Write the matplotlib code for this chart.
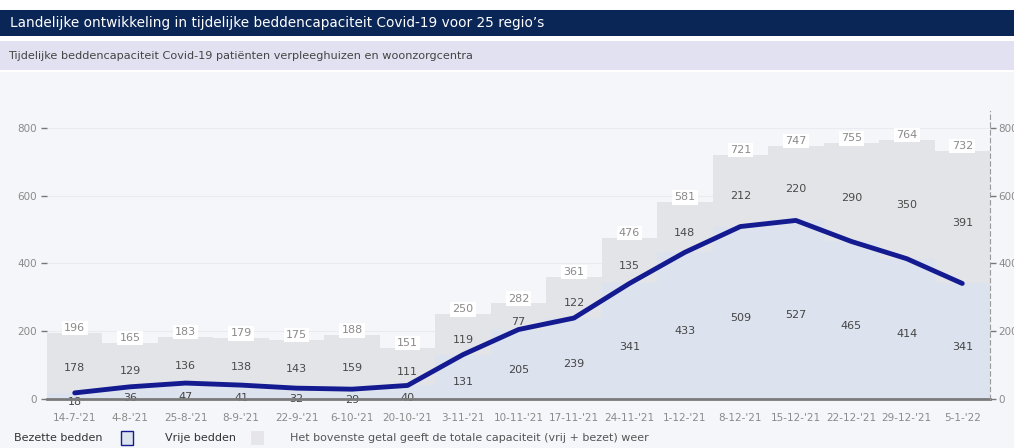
import matplotlib
matplotlib.use("Agg")
import matplotlib.pyplot as plt
from matplotlib.patches import Rectangle

# data
dates = ["14-7-'21", "4-8-'21", "25-8-'21", "8-9-'21", "22-9-'21", "6-10-'21",
         "20-10-'21", "3-11-'21", "10-11-'21", "17-11-'21", "24-11-'21",
         "1-12-'21", "8-12-'21", "15-12-'21", "22-12-'21", "29-12-'21", "5-1-'22"]
bezet = [18, 36, 47, 41, 32, 29, 40, 131, 205, 239, 341, 433, 509, 527, 465, 414, 341]
vrij = [178, 129, 136, 138, 143, 159, 111, 119, 77, 122, 135, 148, 212, 220, 290, 350, 391]
totaal = [b + v for b, v in zip(bezet, vrij)]
yticks = [0, 200, 400, 600, 800]

NAVY = "#0a2657"
LINE = "#141b90"
BEZET_C = "#dce2ee"
VRIJ_C = "#e3e4e8"
GRAY_TXT = "#8a8a8a"

W, H = 1014, 448
fig = plt.figure(figsize=(W / 100, H / 100), dpi=100)
fig.patch.set_facecolor("white")


def px_rect(x0, y0, x1, y1, color, ec="none", lw=0, zorder=-1):
    # rectangle in pixel coords (y from top)
    fig.patches.append(Rectangle((x0 / W, 1 - y1 / H), (x1 - x0) / W, (y1 - y0) / H,
                                 transform=fig.transFigure, facecolor=color,
                                 edgecolor=ec, lw=lw, zorder=zorder))


# header bands and panel background
px_rect(0, 10, W, 36, NAVY)
px_rect(0, 41, W, 70, "#e2e1f1")
px_rect(0, 72, W, H, "#f5f6fa")
fig.text(10 / W, 1 - 23 / H, "Landelijke ontwikkeling in tijdelijke beddencapaciteit Covid-19 voor 25 regio\u2019s",
         color="white", fontsize=9.8, va="center", ha="left")
fig.text(8 / W, 1 - 56 / H, "Tijdelijke beddencapaciteit Covid-19 pati\u00ebnten verpleeghuizen en woonzorgcentra",
         color="#444444", fontsize=8.1, va="center", ha="left")

ax_l, ax_r, ax_b, ax_t = 47, 990, 399, 111
ax = fig.add_axes([ax_l / W, 1 - ax_b / H, (ax_r - ax_l) / W, (ax_b - ax_t) / H])
ax.set_facecolor("none")

x = list(range(len(dates)))
ax.bar(x, bezet, width=1.0, color=BEZET_C, zorder=1)
ax.bar(x, vrij, bottom=bezet, width=1.0, color=VRIJ_C, zorder=1)
ax.plot(x, bezet, color=LINE, lw=3.5, solid_capstyle="round", zorder=3)

for i in x:
    ax.annotate(str(bezet[i]), (i, bezet[i] / 2), xytext=(0, -4), textcoords="offset points",
                ha="center", va="center", fontsize=8, color="#444444", zorder=4)
    ax.annotate(str(vrij[i]), (i, bezet[i] + vrij[i] / 2), xytext=(0, -4), textcoords="offset points",
                ha="center", va="center", fontsize=8, color="#4a4a4a", zorder=4)
    ax.annotate(str(totaal[i]), (i, totaal[i]), xytext=(0, 3.5), textcoords="offset points",
                ha="center", va="center", fontsize=8, color=GRAY_TXT, zorder=2,
                bbox=dict(boxstyle="square,pad=0.2", fc="white", ec="none"))

ax.set_xlim(-0.5, len(dates) - 0.5)
ax.set_ylim(0, 850)
ax.set_yticks(yticks)
ax.set_xticks(x)
ax.set_xticklabels(dates)
ax.grid(axis="y", color="#eaebf0", lw=0.8, zorder=0)
ax.set_axisbelow(True)
for s in ["top", "right", "left"]:
    ax.spines[s].set_visible(False)
ax.spines["bottom"].set_color("#7a7a7a")
ax.spines["bottom"].set_linewidth(2)
ax.spines["bottom"].set_zorder(5)
ax.tick_params(axis="x", length=0, pad=10, labelsize=7.5, labelcolor=GRAY_TXT)
ax.tick_params(axis="y", length=4, width=1, color="#777777", pad=3, labelsize=7.5, labelcolor=GRAY_TXT)

ax2 = ax.twinx()
ax2.set_ylim(ax.get_ylim())
ax2.set_yticks(yticks)
for s in ["top", "left", "bottom"]:
    ax2.spines[s].set_visible(False)
ax2.spines["right"].set_color("#9a9a9a")
ax2.spines["right"].set_linestyle((0, (4, 3)))
ax2.spines["right"].set_linewidth(0.8)
ax2.tick_params(axis="y", length=4, width=1, color="#777777", pad=2, labelsize=7.5, labelcolor=GRAY_TXT)

# legend row
ly = 438
fig.text(14 / W, 1 - ly / H, "Bezette bedden", fontsize=8, color="#333333", va="center")
px_rect(121, 431, 133, 445, BEZET_C, ec=LINE, lw=1, zorder=2)
fig.text(165 / W, 1 - ly / H, "Vrije bedden", fontsize=8, color="#333333", va="center")
px_rect(251, 431, 264, 445, "#e6e6ea", zorder=2)
fig.text(290 / W, 1 - ly / H, "Het bovenste getal geeft de totale capaciteit (vrij + bezet) weer",
         fontsize=8, color="#555555", va="center")

fig.savefig("out.png", dpi=100, facecolor=fig.get_facecolor())
